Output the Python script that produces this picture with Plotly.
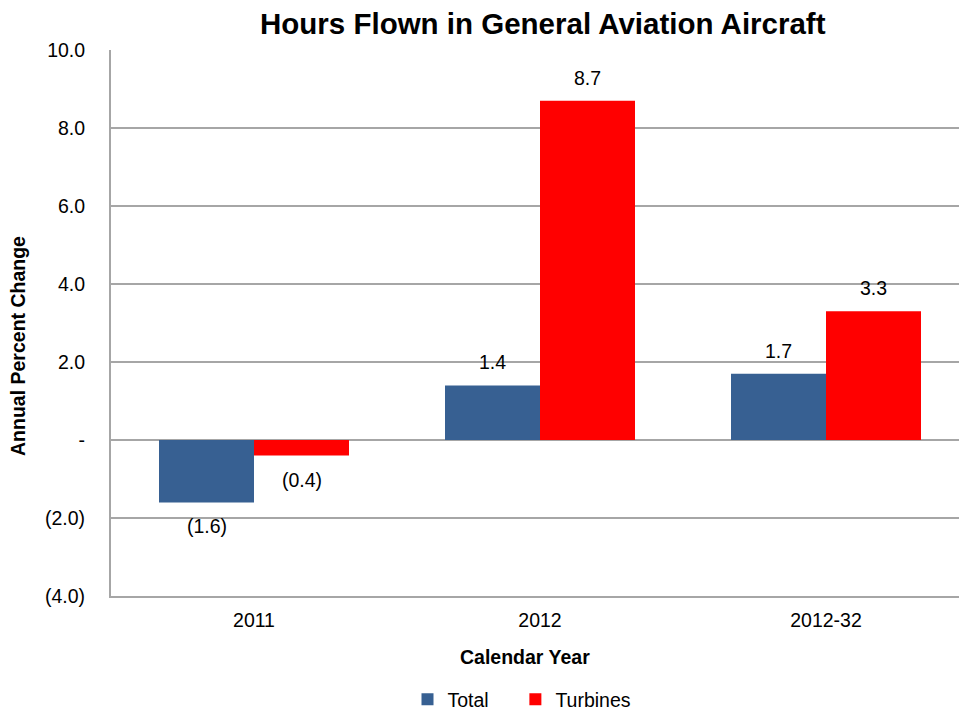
import plotly.graph_objects as go

categories = ["2011", "2012", "2012-32"]
total = [-1.6, 1.4, 1.7]
turbines = [-0.4, 8.7, 3.3]
tick_vals = [-4, -2, 0, 2, 4, 6, 8, 10]
tick_text = ["(4.0)", "(2.0)", "-", "2.0", "4.0", "6.0", "8.0", "10.0"]


def fmt(v):
    return f"({abs(v):.1f})" if v < 0 else f"{v:.1f}"


FONT = "Liberation Sans, Arial, sans-serif"
FS = 19.5
W, H = 959, 714
L, R, T, B = 111, 0, 50, 118
PH = H - T - B
PW = W - L - R
SLOT = 286          # pixels per category slot
BAR_W = 95          # pixels per bar

fig = go.Figure()
fig.add_trace(go.Bar(
    name="Total\u00a0\u00a0\u00a0\u00a0", x=categories, y=total,
    marker=dict(color="#376092", line=dict(width=0)),
))
fig.add_trace(go.Bar(
    name="Turbines", x=categories, y=turbines,
    marker=dict(color="#FF0000", line=dict(width=0)),
))

# value labels, set a little away from the bar ends
for vals, shift in [(total, -BAR_W / 2), (turbines, BAR_W / 2)]:
    for i, v in enumerate(vals):
        fig.add_annotation(
            x=i, y=v, xref="x", yref="y", text=fmt(v), showarrow=False,
            xshift=shift, yshift=23 if v >= 0 else -24,
            xanchor="center", yanchor="middle",
            font=dict(family=FONT, size=FS, color="#000000"),
        )

x_hi = PW / SLOT - 0.5
fig.update_layout(
    width=W, height=H,
    margin=dict(l=L, r=R, t=T, b=B, pad=0, autoexpand=False),
    paper_bgcolor="white", plot_bgcolor="white",
    barmode="group", bargap=1 - 2 * BAR_W / SLOT, bargroupgap=0,
    font=dict(family=FONT, size=FS, color="#000000"),
    showlegend=True,
    legend=dict(
        orientation="h", x=(522 - L) / PW, xanchor="center",
        y=-(H - (H - B) + 5) / PH, yanchor="bottom",
        font=dict(family=FONT, size=FS),
        itemwidth=30,
    ),
)

fig.update_xaxes(
    automargin=False, range=[-0.5, x_hi],
    showline=True, linecolor="#a6a6a6", linewidth=2,
    showgrid=False, ticks="", tickfont=dict(family=FONT, size=FS),
    ticklabelstandoff=6,
)
fig.update_yaxes(
    automargin=False,
    range=[-4, 10], tickvals=tick_vals, ticktext=tick_text,
    showline=True, linecolor="#a6a6a6", linewidth=2,
    showgrid=True, gridcolor="#a6a6a6", gridwidth=1.5,
    zeroline=False, ticks="", tickfont=dict(family=FONT, size=FS),
    ticklabelstandoff=20,
)

# chart title and axis titles
fig.add_annotation(
    text="<b>Hours Flown in General Aviation Aircraft</b>",
    xref="paper", yref="paper",
    x=(543 - L) / PW, y=1 + (T - 24) / PH,
    xanchor="center", yanchor="middle", showarrow=False,
    font=dict(family=FONT, size=29.5, color="#000000"),
)
fig.add_annotation(
    text="<b>Calendar Year</b>",
    xref="paper", yref="paper",
    x=(525 - L) / PW, y=-(657 - (H - B)) / PH,
    xanchor="center", yanchor="middle", showarrow=False,
    font=dict(family=FONT, size=FS, color="#000000"),
)
fig.add_annotation(
    text="<b>Annual Percent Change</b>", textangle=-90,
    xref="paper", yref="paper",
    x=(18 - L) / PW, y=((H - B) - 346) / PH,
    xanchor="center", yanchor="middle", showarrow=False,
    font=dict(family=FONT, size=FS, color="#000000"),
)

fig.write_html("out.html")
